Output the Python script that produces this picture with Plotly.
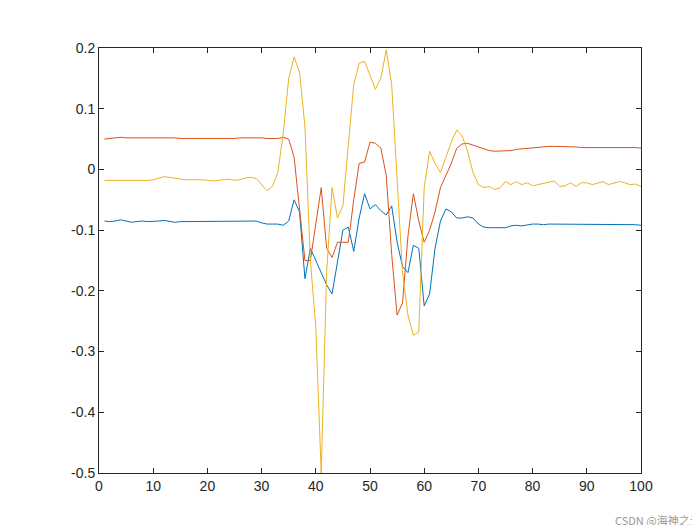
import plotly.graph_objects as go

x = list(range(1, 101))
blue = [-0.085,-0.086,-0.085,-0.083,-0.085,-0.087,-0.086,-0.085,-0.086,-0.086,
        -0.085,-0.084,-0.086,-0.087,-0.086,-0.086,-0.085,-0.086,-0.085,-0.085,
        -0.086,-0.085,-0.085,-0.086,-0.086,-0.085,-0.085,-0.086,-0.085,-0.088,
        -0.09,-0.09,-0.09,-0.092,-0.085,-0.05,-0.07,-0.18,-0.13,-0.15,
        -0.17,-0.19,-0.205,-0.15,-0.1,-0.095,-0.135,-0.08,-0.04,-0.065,
        -0.058,-0.068,-0.075,-0.06,-0.12,-0.16,-0.17,-0.125,-0.13,-0.225,
        -0.205,-0.13,-0.085,-0.065,-0.07,-0.08,-0.08,-0.078,-0.08,-0.09,
        -0.095,-0.096,-0.096,-0.095,-0.096,-0.093,-0.092,-0.093,-0.091,-0.09,
        -0.09,-0.091,-0.09,-0.09,-0.09,-0.091,-0.09,-0.09,-0.091,-0.09,
        -0.091,-0.091,-0.09,-0.09,-0.091,-0.09,-0.09,-0.09,-0.091,-0.092]
red = [0.05,0.051,0.053,0.053,0.052,0.052,0.053,0.053,0.053,0.053,
       0.053,0.052,0.052,0.052,0.051,0.051,0.051,0.051,0.051,0.05,
       0.05,0.05,0.05,0.051,0.051,0.052,0.052,0.052,0.053,0.052,
       0.051,0.051,0.051,0.053,0.05,0.02,-0.06,-0.15,-0.15,-0.09,
       -0.03,-0.13,-0.145,-0.12,-0.12,-0.12,-0.05,0.01,0.012,0.045,
       0.043,0.035,-0.01,-0.14,-0.24,-0.22,-0.11,-0.04,-0.085,-0.12,
       -0.1,-0.07,-0.03,-0.01,0.01,0.035,0.042,0.043,0.04,0.037,
       0.033,0.031,0.03,0.03,0.03,0.031,0.033,0.034,0.035,0.036,
       0.037,0.037,0.038,0.038,0.038,0.037,0.037,0.037,0.036,0.036,
       0.037,0.037,0.036,0.036,0.037,0.037,0.036,0.036,0.036,0.035]
yellow = [-0.018,-0.018,-0.019,-0.018,-0.018,-0.018,-0.018,-0.019,-0.018,-0.017,
          -0.014,-0.012,-0.013,-0.015,-0.016,-0.017,-0.017,-0.016,-0.017,-0.018,
          -0.019,-0.018,-0.017,-0.016,-0.018,-0.017,-0.014,-0.013,-0.015,-0.025,
          -0.035,-0.028,-0.005,0.06,0.15,0.185,0.16,0.07,-0.15,-0.26,
          -0.5,-0.17,-0.03,-0.08,-0.06,0.04,0.14,0.175,0.178,0.155,
          0.132,0.15,0.197,0.14,-0.02,-0.17,-0.24,-0.273,-0.268,-0.03,
          0.03,0.01,-0.005,0.02,0.045,0.065,0.055,0.03,-0.005,-0.025,
          -0.03,-0.028,-0.033,-0.03,-0.02,-0.025,-0.02,-0.025,-0.022,-0.027,
          -0.025,-0.022,-0.02,-0.019,-0.028,-0.027,-0.022,-0.028,-0.022,-0.022,
          -0.025,-0.022,-0.02,-0.025,-0.023,-0.02,-0.022,-0.025,-0.024,-0.028]
ytick_vals = [0.2, 0.1, 0, -0.1, -0.2, -0.3, -0.4, -0.5]
ytick_text = ["0.2", "0.1", "0", "-0.1", "-0.2", "-0.3", "-0.4", "-0.5"]

fig = go.Figure()
for y, c in [(blue, "#0072BD"), (red, "#D95319"), (yellow, "#EDB120")]:
    fig.add_trace(go.Scatter(x=x, y=y, mode="lines", line=dict(color=c, width=1), showlegend=False))

ax = dict(showgrid=False, zeroline=False, showline=True, mirror="ticks", linecolor="#262626",
          linewidth=1, ticks="inside", ticklen=5, tickcolor="#262626", automargin=False,
          tickfont=dict(family="Liberation Sans, Arial", size=14, color="#262626"))
fig.update_xaxes(range=[0, 100], dtick=10, **ax)
fig.update_yaxes(range=[-0.5, 0.2], tickvals=ytick_vals, ticktext=ytick_text, **ax)
fig.add_annotation(text="CSDN @海神之光", xref="paper", yref="paper", x=1.115, y=-0.135,
                   xanchor="right", yanchor="bottom", showarrow=False,
                   font=dict(family="Noto Sans CJK SC", size=11, color="#999999"))
fig.update_layout(width=700, height=525, margin=dict(l=91, r=67, t=40, b=60),
                  plot_bgcolor="white", paper_bgcolor="white")
fig.write_html("out.html")
